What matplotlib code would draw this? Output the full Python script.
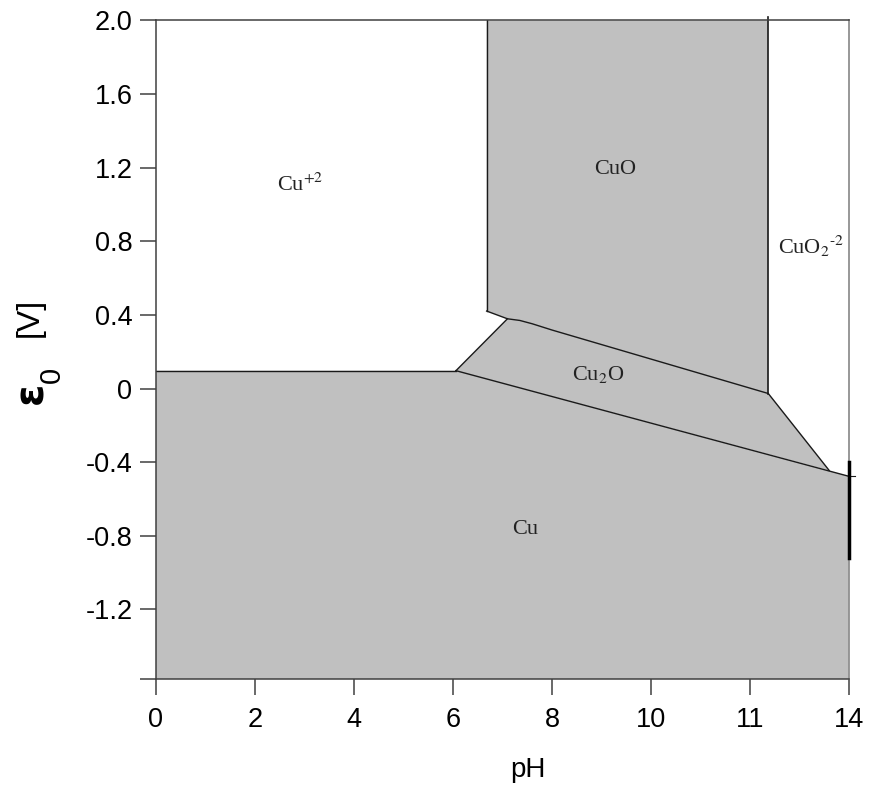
import numpy as np
import matplotlib.pyplot as plt

# boundary points (pH, E0 [V])
cu2_cu_ph = [0.0, 6.06]
cu2_cu_e = [0.097, 0.097]

cu2o_cu_ph = [6.06, 14.0]
cu2o_cu_e = [0.097, -0.477]

cu2_cu2o_ph = [6.06, 7.10]
cu2_cu2o_e = [0.097, 0.379]

# slightly jagged CuO / Cu2O boundary
cuo_cu2o_ph = [6.68, 7.10, 7.35, 7.60, 8.00, 12.37]
cuo_cu2o_e = [0.421, 0.379, 0.370, 0.352, 0.318, -0.027]

cu2_cuo_ph = [6.68, 6.68]
cu2_cuo_e = [2.0, 0.421]

cuo_cuo2_ph = [12.37, 12.37]
cuo_cuo2_e = [2.02, -0.027]

cuo2_cu2o_ph = [12.37, 13.60]
cuo2_cu2o_e = [-0.027, -0.445]

# thick black segment on the right edge
edge_ph = [14.0, 14.0]
edge_e = [-0.40, -0.92]

y_min, y_max = -1.58, 2.0

xticks = [0, 2, 4, 6, 8, 10, 12, 14]
xtick_labels = ['0', '2', '4', '6', '8', '10', '11', '14']
yticks = [2.0, 1.6, 1.2, 0.8, 0.4, 0.0, -0.4, -0.8, -1.2, y_min]
ytick_labels = ['2.0', '1.6', '1.2', '0.8', '0.4', '0', '-0.4', '-0.8', '-1.2', '']

labels = ['Cu$^{+2}$', 'CuO', 'Cu$_2$O', r'CuO$_2$$^{\text{-}2}$', 'Cu']
label_ph = [2.44, 8.85, 8.40, 12.57, 7.20]
label_e = [1.074, 1.165, 0.044, 0.733, -0.789]

gray = '#c0c0c0'
line_c = '#1a1a1a'

fig = plt.figure(figsize=(8.71, 7.90), dpi=100)
ax = fig.add_axes([0.1791, 0.1401, 0.7956, 0.834])

# regions
cu_x = [0.0] + cu2_cu_ph + [cu2o_cu_ph[1], 14.0]
cu_y = [y_min] + cu2_cu_e + [cu2o_cu_e[1], y_min]
ax.fill(cu_x, cu_y, color=gray, lw=0)

cu2o_x = cu2_cu2o_ph + cuo_cu2o_ph[2:] + [cuo2_cu2o_ph[1]]
cu2o_y = cu2_cu2o_e + cuo_cu2o_e[2:] + [cuo2_cu2o_e[1]]
ax.fill(cu2o_x, cu2o_y, color=gray, lw=0)

cuo_x = [cu2_cuo_ph[0], cuo_cuo2_ph[0]] + cuo_cu2o_ph[::-1]
cuo_y = [y_max, y_max] + cuo_cu2o_e[::-1]
ax.fill(cuo_x, cuo_y, color=gray, lw=0)

# boundaries
for xs, ys in [(cu2_cu_ph, cu2_cu_e), (cu2o_cu_ph, cu2o_cu_e),
               (cu2_cu2o_ph, cu2_cu2o_e), (cuo_cu2o_ph, cuo_cu2o_e),
               (cu2_cuo_ph, cu2_cuo_e), (cuo2_cu2o_ph, cuo2_cu2o_e)]:
    ax.plot(xs, ys, color=line_c, lw=1.0)
ax.plot(cuo_cuo2_ph, cuo_cuo2_e, color=line_c, lw=1.2, clip_on=False)
ax.plot(edge_ph, edge_e, color='black', lw=2.5, clip_on=False, zorder=5)
ax.plot([14.0, 14.12], [cu2o_cu_e[1], cu2o_cu_e[1]], color=line_c, lw=0.8, clip_on=False)

for s, px, py in zip(labels, label_ph, label_e):
    ax.text(px, py, s, family='Liberation Serif', math_fontfamily='stix',
            fontsize=16, color='#222222', ha='left', va='baseline')

ax.set_xlim(0, 14)
ax.set_ylim(y_min, y_max)
ax.set_xticks(xticks)
ax.set_xticklabels(xtick_labels)
ax.set_yticks(yticks)
ax.set_yticklabels(ytick_labels)
ax.tick_params(axis='x', direction='out', length=11.5, width=1.1, color='#404040',
               pad=8.5, labelsize=19.5)
ax.tick_params(axis='y', direction='out', length=11.5, width=1.1, color='#404040',
               pad=5.5, labelsize=19.5)
for lab in ax.get_xticklabels() + ax.get_yticklabels():
    lab.set_family('Liberation Sans')

for side in ['left', 'top', 'bottom']:
    ax.spines[side].set_color('#404040')
    ax.spines[side].set_linewidth(1.1)
ax.spines['right'].set_color('#909090')
ax.spines['right'].set_linewidth(1.3)

# axis titles
fig.text(527.5 / 871, 1 - 777 / 790, 'pH', family='Liberation Sans', fontsize=20,
         ha='center', va='baseline')
fig.text(42 / 871, 1 - 392.5 / 790, 'ε', family='DejaVu Sans', fontweight='bold',
         fontsize=29, rotation=90, rotation_mode='anchor', ha='center', va='baseline')
fig.text(60 / 871, 1 - 375 / 790, '0', family='Liberation Sans', fontsize=21,
         rotation=90, rotation_mode='anchor', ha='center', va='baseline')
fig.text(38 / 871, 1 - 317.5 / 790, '[V]', family='Liberation Sans', fontsize=23,
         rotation=90, rotation_mode='anchor', ha='center', va='baseline')

fig.savefig('out.png', dpi=100)
